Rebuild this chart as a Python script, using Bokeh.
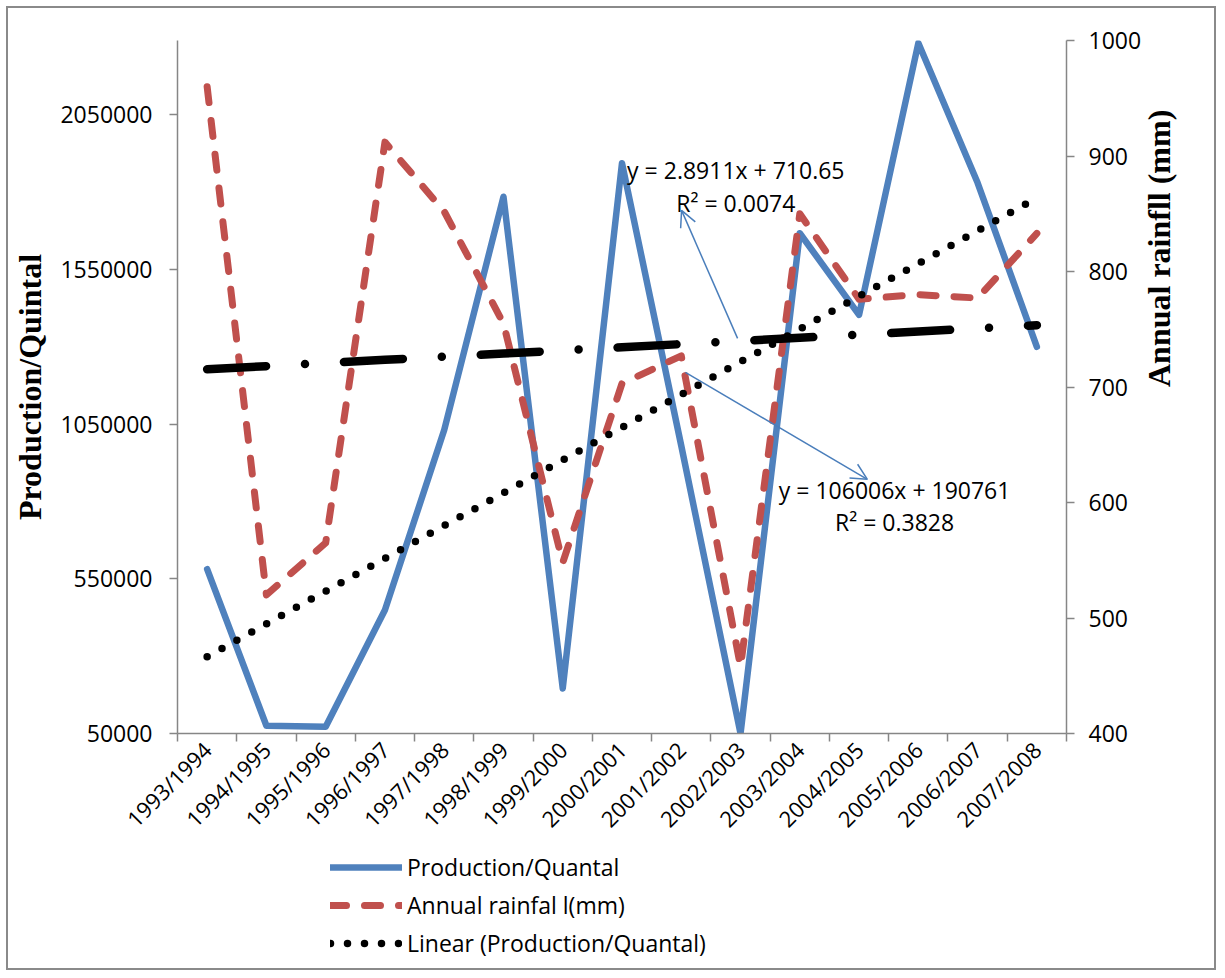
import numpy as np
from bokeh.plotting import figure
from bokeh.layouts import column
from bokeh.models import (Range1d, LinearAxis, FixedTicker, Legend, LegendItem,
                          Label, Arrow, OpenHead, NumeralTickFormatter)
from bokeh.embed import file_html
from bokeh.resources import INLINE

seasons = ["1993/1994", "1994/1995", "1995/1996", "1996/1997", "1997/1998",
           "1998/1999", "1999/2000", "2000/2001", "2001/2002", "2002/2003",
           "2003/2004", "2004/2005", "2005/2006", "2006/2007", "2007/2008"]
production = [581000, 75000, 72000, 449000, 1031000, 1785000, 195500, 1893500,
              980000, 50000, 1667000, 1403000, 2281600, 1830000, 1300000]
rainfall = [960, 520, 565, 912, 852, 755, 548, 703, 727, 458, 850, 776, 780, 777, 833]
prod_ticks = [50000, 550000, 1050000, 1550000, 2050000]
rain_ticks = [400, 500, 600, 700, 800, 900, 1000]
eq_rain = ["y = 2.8911x + 710.65", "R\u00b2 = 0.0074"]
eq_prod = ["y = 106006x + 190761", "R\u00b2 = 0.3828"]
legend_labels = ["Production/Quantal", "Annual rainfal l(mm)", "Linear (Production/Quantal)"]

xs = np.arange(1, len(seasons) + 1)
pa, pb = np.polyfit(xs, production, 1)
ra, rb = np.polyfit(xs, rainfall, 1)
prod_trend = pa * xs + pb
rain_trend = ra * xs + rb

FONT = "Open Sans"
SERIF = "Liberation Serif"
AXIS_C = "#868686"
BLUE = "#4F81BD"
RED = "#C0504D"
FS = "23px"

W = 1222
H_MAIN = 848
H_LEG = 128

prod_style = dict(line_color=BLUE, line_width=6.5, line_join="round", line_cap="round")
rain_style = dict(line_color=RED, line_width=7, line_dash="16 18", line_cap="round", line_join="round")
ptrend_style = dict(line_color="black", line_width=7.5, line_dash="0 17", line_cap="round")
rtrend_style = dict(line_color="black", line_width=8.5, line_dash="59 39 0 39", line_cap="round")

p = figure(width=W, height=H_MAIN, output_backend="svg", toolbar_location=None,
           x_range=Range1d(0.5, len(seasons) + 0.5),
           y_range=Range1d(50000, 2290000),
           min_border_left=177, min_border_right=W - 1066,
           min_border_top=40, min_border_bottom=H_MAIN - 733)
p.extra_y_ranges = {"rain": Range1d(400, 1000)}
p.xgrid.visible = False
p.ygrid.visible = False
p.outline_line_color = None
p.border_fill_alpha = 0
p.background_fill_alpha = 0

# x axis
xa = p.xaxis[0]
xa.ticker = FixedTicker(ticks=list(xs), minor_ticks=list(np.arange(0.5, len(seasons) + 1, 1.0)))
xa.major_label_overrides = {int(i): s for i, s in zip(xs, seasons)}
xa.major_label_orientation = np.pi / 4
xa.major_tick_line_color = None
xa.minor_tick_out = 8
xa.minor_tick_in = 0
xa.minor_tick_line_color = AXIS_C
xa.minor_tick_line_width = 1.5
xa.axis_line_color = AXIS_C
xa.axis_line_width = 1.5
xa.major_label_text_font = FONT
xa.major_label_text_font_size = "22px"
xa.major_label_text_color = "black"
xa.major_label_standoff = 4

# left axis
ya = p.yaxis[0]
ya.ticker = FixedTicker(ticks=prod_ticks)
ya.formatter = NumeralTickFormatter(format="0")
ya.minor_tick_line_color = None
ya.major_tick_out = 8
ya.major_tick_in = 0
ya.major_tick_line_color = AXIS_C
ya.major_tick_line_width = 1.5
ya.axis_line_color = AXIS_C
ya.axis_line_width = 1.5
ya.major_label_text_font = FONT
ya.major_label_text_font_size = FS
ya.major_label_text_color = "black"
ya.major_label_standoff = 17
ya.axis_label = "Production/Quintal"
ya.axis_label_text_font = SERIF
ya.axis_label_text_font_style = "bold"
ya.axis_label_text_font_size = "32px"
ya.axis_label_text_color = "black"
ya.axis_label_standoff = 9

# right axis
ra_ax = LinearAxis(y_range_name="rain", ticker=FixedTicker(ticks=rain_ticks))
ra_ax.minor_tick_line_color = None
ra_ax.major_tick_out = 8
ra_ax.major_tick_in = 0
ra_ax.major_tick_line_color = AXIS_C
ra_ax.major_tick_line_width = 1.5
ra_ax.axis_line_color = AXIS_C
ra_ax.axis_line_width = 1.5
ra_ax.major_label_text_font = FONT
ra_ax.major_label_text_font_size = FS
ra_ax.major_label_text_color = "black"
ra_ax.major_label_standoff = 14
ra_ax.axis_label = "Annual rainfll (mm)"
ra_ax.axis_label_text_font = SERIF
ra_ax.axis_label_text_font_style = "bold"
ra_ax.axis_label_text_font_size = "32px"
ra_ax.axis_label_text_color = "black"
ra_ax.axis_label_standoff = 15
ra_ax.axis_label_text_align = "center"
try:
    ra_ax.axis_label_orientation = np.pi / 2
except Exception:
    pass
p.add_layout(ra_ax, "right")

# series
r_prod = p.line(xs, production, **prod_style)
r_rain = p.line(xs, rainfall, y_range_name="rain", **rain_style)
r_rtrend = p.line(xs, rain_trend, y_range_name="rain", **rtrend_style)
r_ptrend = p.line(xs, prod_trend, **ptrend_style)

# equation labels and arrows
lab_kw = dict(y_range_name="rain", text_font=FONT, text_font_size=FS,
              text_color="black", text_align="center", text_baseline="middle")
p.add_layout(Label(x=9.92, y=887.5, text=eq_rain[0], **lab_kw))
p.add_layout(Label(x=9.92, y=858.9, text=eq_rain[1], **lab_kw))
p.add_layout(Label(x=12.6, y=610.6, text=eq_prod[0], **lab_kw))
p.add_layout(Label(x=12.6, y=583.1, text=eq_prod[1], **lab_kw))

arrow_c = "#4A7EBB"
p.add_layout(Arrow(x_start=9.95, y_start=742.1, x_end=9.005, y_end=852.9, y_range_name="rain",
                   line_color=arrow_c, line_width=1.5,
                   end=OpenHead(size=16, line_color=arrow_c, line_width=1.5)))
p.add_layout(Arrow(x_start=9.07, y_start=712.7, x_end=12.14, y_end=620.1, y_range_name="rain",
                   line_color=arrow_c, line_width=1.5,
                   end=OpenHead(size=16, line_color=arrow_c, line_width=1.5)))

# legend figure below the chart
lf = figure(width=W, height=H_LEG, output_backend="svg", toolbar_location=None,
            x_range=Range1d(0, 100), y_range=Range1d(0, 100),
            min_border=0, x_axis_type=None, y_axis_type=None)
lf.xgrid.visible = False
lf.ygrid.visible = False
lf.outline_line_color = None
lf.border_fill_alpha = 0
lf.background_fill_alpha = 0
l1 = lf.line([-50, -40], [-50, -50], **prod_style)
l2 = lf.line([-50, -40], [-50, -50], **rain_style)
l3 = lf.line([-50, -40], [-50, -50], **ptrend_style)
legend = Legend(items=[LegendItem(label=legend_labels[0], renderers=[l1]),
                       LegendItem(label=legend_labels[1], renderers=[l2]),
                       LegendItem(label=legend_labels[2], renderers=[l3])],
                location=(153, 14), padding=0, margin=0, spacing=0,
                glyph_width=72, glyph_height=38, label_height=38, label_standoff=5,
                label_text_font=FONT, label_text_font_size=FS, label_text_color="black",
                border_line_color=None, background_fill_alpha=0)
lf.add_layout(legend, "center")

page = column(p, lf, spacing=0)
page.styles = {"outline": "2px solid #8a8a8a", "outline-offset": "-8px"}

open("out.html", "w").write(file_html(page, INLINE))
